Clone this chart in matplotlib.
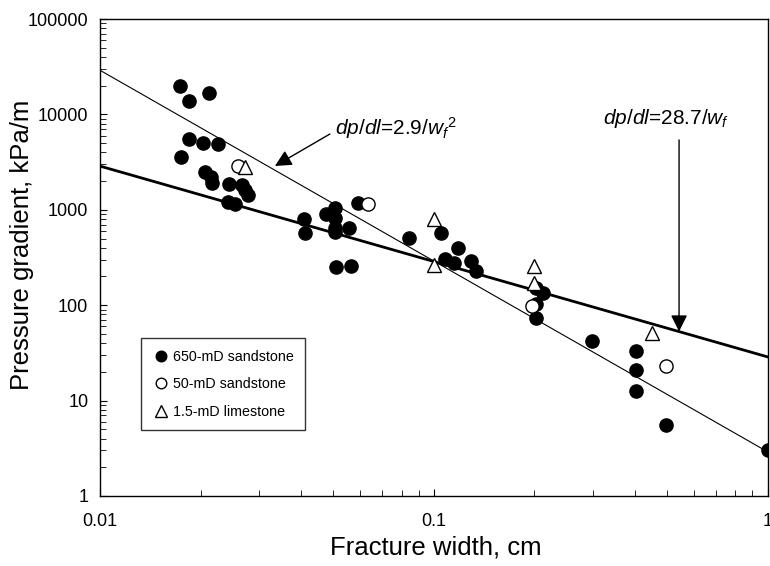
import numpy as np
import matplotlib as mpl
import matplotlib.pyplot as plt

plt.rcParams['font.family'] = ['Liberation Sans', 'DejaVu Sans']
plt.rcParams['mathtext.fontset'] = 'custom'
plt.rcParams['mathtext.rm'] = 'Liberation Sans'
plt.rcParams['mathtext.it'] = 'Liberation Sans:italic'

# 650-mD sandstone (filled circles)
w_650 = [0.0174, 0.0185, 0.0212, 0.0185, 0.0203, 0.0226, 0.0175, 0.0206, 0.0216, 0.0215,
         0.0243, 0.0266, 0.0272, 0.0278, 0.0241, 0.0254, 0.0408, 0.0411, 0.0475, 0.0505,
         0.0505, 0.0505, 0.0505, 0.0556, 0.0593, 0.0509, 0.0563, 0.0843, 0.1048, 0.1083,
         0.1148, 0.1182, 0.129, 0.1333, 0.2028, 0.2123, 0.202, 0.202, 0.298, 0.4043,
         0.4043, 0.4043, 0.497, 1.0]
dp_650 = [19860, 13930, 16870, 5520, 5050, 4860, 3600, 2470, 1920, 2220,
          1860, 1820, 1610, 1430, 1220, 1150, 795, 567, 897, 1037,
          815, 640, 590, 649, 1187, 250, 258, 510, 575, 305,
          275, 401, 293, 228, 150, 135, 103, 73, 42, 33.4,
          20.9, 12.6, 5.55, 3.0]

# 50-mD sandstone (open circles)
w_50 = [0.0259, 0.0633, 0.1965, 0.497]
dp_50 = [2880, 1140, 97, 23]

# 1.5-mD limestone (open triangles)
w_15 = [0.0272, 0.1, 0.1, 0.1996, 0.1996, 0.450]
dp_15 = [2830, 795, 264, 258, 170, 51]

# fitted lines
c_sq, c_lin = 2.9, 28.7

fig = plt.figure(figsize=(7.7, 5.66), dpi=100)
ax = fig.add_axes([0.13, 0.1237, 0.867, 0.8427])

wl = np.logspace(-2, 0, 100)
ax.plot(wl, c_sq / wl**2, color='black', lw=0.8, zorder=2)
ax.plot(wl, c_lin / wl, color='black', lw=2.0, zorder=2)

ax.plot(w_650, dp_650, 'o', ms=9.5, mfc='black', mec='black', ls='none',
        label='650-mD sandstone', zorder=3)
ax.plot(w_50, dp_50, 'o', ms=9.5, mfc='white', mec='black', mew=1, ls='none',
        label='50-mD sandstone', zorder=3)
ax.plot(w_15, dp_15, '^', ms=10, mfc='white', mec='black', mew=1, ls='none',
        label='1.5-mD limestone', zorder=3)

ax.set_xscale('log')
ax.set_yscale('log')
ax.set_xlim(0.01, 1)
ax.set_ylim(1, 100000)
ax.set_xticks([0.01, 0.1, 1])
ax.set_xticklabels(['0.01', '0.1', '1'])
ax.set_yticks([1, 10, 100, 1000, 10000, 100000])
ax.set_yticklabels(['1', '10', '100', '1000', '10000', '100000'])
ax.tick_params(which='both', direction='in', top=False, right=False, labelsize=13, color='black')
ax.tick_params(which='major', length=5)
ax.tick_params(which='minor', length=4)
ax.tick_params(axis='x', pad=12)
ax.tick_params(axis='y', pad=8.5)
for s in ax.spines.values():
    s.set_linewidth(1)

ax.set_xlabel('Fracture width, cm', fontsize=18.5)
ax.xaxis.set_label_coords(0.503, -0.083)
ax.set_ylabel('Pressure gradient, kPa/m', fontsize=18.5)
ax.yaxis.set_label_coords(-0.099, 0.527)

arrow = dict(arrowstyle='-|>', mutation_scale=25, color='black', lw=1, shrinkA=0, shrinkB=0)
ax.annotate('', xy=(0.0334, 2880), xytext=(0.0488, 6230), arrowprops=arrow)
ax.text(0.0505, 7200, r'$\mathit{dp/dl}$=2.9/$\mathit{w_f}^{\mathit{2}}$', fontsize=15,
        va='center', ha='left')
ax.annotate('', xy=(0.5426, 53), xytext=(0.5426, 5400), arrowprops=arrow)
ax.text(0.3206, 9170, r'$\mathit{dp/dl}$=28.7/$\mathit{w_f}$', fontsize=15,
        va='center', ha='left')

leg = ax.legend(loc='lower left', bbox_to_anchor=(0.0614, 0.138), frameon=True, fancybox=False,
                edgecolor='black', fontsize=10.3, handletextpad=0.2, handlelength=1.2,
                borderpad=0.8, labelspacing=0.95, markerscale=0.8, borderaxespad=0)
leg.get_frame().set_linewidth(1)

fig.savefig('out.png', dpi=100)
